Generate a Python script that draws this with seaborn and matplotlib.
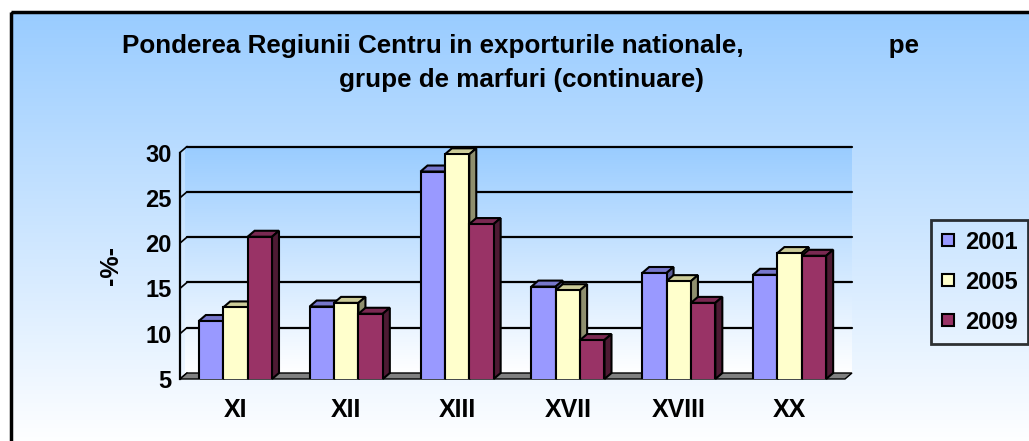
import numpy as np
import pandas as pd
import matplotlib
matplotlib.use('Agg')
import matplotlib.pyplot as plt
from matplotlib.patches import Polygon, Rectangle
from matplotlib.lines import Line2D
import seaborn as sns

categories = ['XI', 'XII', 'XIII', 'XVII', 'XVIII', 'XX']
years = ['2001', '2005', '2009']
v2001 = [11.4, 13.0, 27.9, 15.2, 16.7, 16.5]
v2005 = [12.9, 13.4, 29.8, 14.8, 15.8, 18.9]
v2009 = [20.7, 12.2, 22.1, 9.3, 13.4, 18.6]
yticks = [5, 10, 15, 20, 25, 30]

front = {'2001': '#9999FF', '2005': '#FFFFCC', '2009': '#993366'}
top_c = {'2001': '#7777CC', '2005': '#CCCC99', '2009': '#7A2952'}
side_c = {'2001': '#5C5C99', '2005': '#8F8F6E', '2009': '#4D1A33'}

df = pd.DataFrame({
    'grupa': categories * 3,
    'an': [y for y in years for _ in categories],
    'val': v2001 + v2005 + v2009,
})

sns.set_style('white')
plt.rcParams['font.family'] = ['Liberation Sans', 'DejaVu Sans']
plt.rcParams['font.weight'] = 'bold'
plt.rcParams['text.color'] = 'black'
plt.rcParams['axes.labelcolor'] = 'black'
plt.rcParams['xtick.color'] = 'black'
plt.rcParams['ytick.color'] = 'black'

W, H = 1029, 441
fig = plt.figure(figsize=(W / 100, H / 100), dpi=100)

# background with gradient and frame
bg = fig.add_axes([0, 0, 1, 1])
bg.axis('off')
grad = np.linspace(0, 1, 256).reshape(-1, 1)
cmap_bg = matplotlib.colors.LinearSegmentedColormap.from_list('bg', ['#99CCFF', '#FFFFFF'])
bg.imshow(grad, cmap=cmap_bg, extent=[11, W + 5, H + 5, 12], aspect='auto', zorder=0)
bg.add_patch(Rectangle((11, 12), W, H, fill=False, edgecolor='black', lw=2.5, zorder=2))

# plot area
x0, x1, yb, yt = 180, 845, 379, 152.5
dxp, dyp = 7, 6
bg.imshow(grad, cmap=cmap_bg, extent=[x0 + dxp - 2, x1 + dxp, yb - dyp, yt - dyp], aspect='auto', zorder=1)
bg.set_xlim(0, W)
bg.set_ylim(H, 0)

ax = fig.add_axes([x0 / W, 1 - yb / H, (x1 - x0) / W, (yb - yt) / H])
ax.set_facecolor('none')
sns.barplot(data=df, x='grupa', y='val', hue='an', palette=front, width=0.66,
            edgecolor='black', linewidth=1.5, saturation=1, ax=ax, legend=False)
ax.set_xlim(-0.5, 5.5)
ax.set_ylim(5, 30)
bars = sorted([p for p in ax.patches if p.get_height() > 0], key=lambda p: p.get_x())

dx = dxp * 6 / (x1 - x0)
dy = dyp * 25 / (yb - yt)

# floor
floor = Polygon([(-0.5, 5), (5.5, 5), (5.5 + dx, 5 + dy), (-0.5 + dx, 5 + dy)], closed=True,
                facecolor='#808080', edgecolor='black', lw=1, clip_on=False, zorder=1.5)
ax.add_patch(floor)
# gridlines on back wall
for t in yticks[1:]:
    ax.plot([-0.5 + dx, 5.5 + dx], [t + dy, t + dy], color='black', lw=1.6, clip_on=False, zorder=1)
for t in yticks:
    ax.plot([-0.5, -0.5 + dx], [t, t + dy], color='black', lw=1.2, clip_on=False, zorder=1)

# 3d faces of the bars
for k, p in enumerate(bars):
    fc = matplotlib.colors.to_hex(p.get_facecolor())
    yr = [y for y in years if front[y].lower() == fc.lower()][0]
    xl, w, h = p.get_x(), p.get_width(), p.get_height()
    z = 3 + k * 0.01
    p.set_zorder(z)
    top = Polygon([(xl, h), (xl + w, h), (xl + w + dx, h + dy), (xl + dx, h + dy)],
                  facecolor=top_c[yr], edgecolor='black', lw=1.5, zorder=z - 0.005, clip_on=False)
    side = Polygon([(xl + w, 5), (xl + w + dx, 5 + dy), (xl + w + dx, h + dy), (xl + w, h)],
                   facecolor=side_c[yr], edgecolor='black', lw=1.5, zorder=z - 0.005, clip_on=False)
    ax.add_patch(top)
    ax.add_patch(side)

for s in ['top', 'right', 'bottom']:
    ax.spines[s].set_visible(False)
ax.spines['left'].set_color('black')
ax.spines['left'].set_linewidth(1.6)
ax.set_yticks(yticks)
ax.set_yticklabels([str(t) for t in yticks], fontsize=17, fontweight='bold')
ax.tick_params(axis='y', direction='out', length=4, width=1.5, color='black', pad=2)
ax.set_xticks(range(len(categories)))
ax.set_xticklabels(categories, fontsize=18, fontweight='bold')
ax.set_xticks(np.arange(-0.5, 6, 1), minor=True)
ax.tick_params(axis='x', which='major', length=0, pad=14)
ax.tick_params(axis='x', which='minor', direction='out', length=4, width=1.5, color='black')
ax.set_xlabel('')
ax.set_ylabel('-%-', fontsize=18, fontweight='bold', labelpad=16)

fig.text(521 / W, 1 - 52.5 / H,
         'Ponderea Regiunii Centru in exporturile nationale,' + ' ' * 20 + 'pe',
         ha='center', va='baseline', fontsize=18.7, fontweight='bold')
fig.text(521 / W, 1 - 87 / H, 'grupe de marfuri (continuare)',
         ha='center', va='baseline', fontsize=18.7, fontweight='bold')

handles = [Line2D([], [], marker='s', linestyle='none', markersize=8.5, markerfacecolor=front[y],
                  markeredgecolor='black', markeredgewidth=1.5) for y in years]
leg = fig.legend(handles, years, loc='upper left', bbox_to_anchor=(931 / W, 1 - 220 / H),
                 frameon=True, fancybox=False, prop={'size': 17, 'weight': 'bold'},
                 handlelength=0.55, handletextpad=0.45, labelspacing=0.72, borderpad=0.45,
                 borderaxespad=0)
leg.get_frame().set_edgecolor('black')
leg.get_frame().set_linewidth(2)
leg.get_frame().set_facecolor('none')

fig.savefig('out.png', dpi=100)
